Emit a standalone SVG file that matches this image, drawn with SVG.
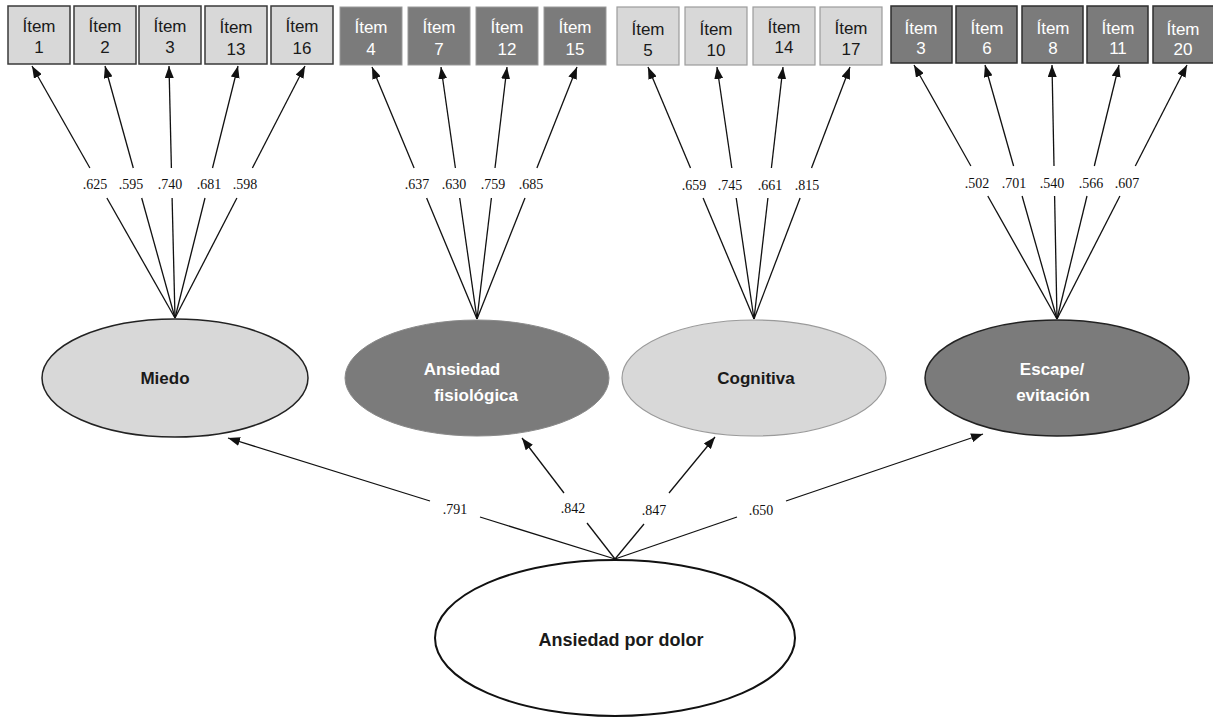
<svg xmlns="http://www.w3.org/2000/svg" width="1213" height="718" viewBox="0 0 1213 718">
<defs>
<marker id="ah" markerUnits="userSpaceOnUse" markerWidth="12" markerHeight="9" refX="12" refY="4.5" orient="auto">
<path d="M0,0 L12,4.5 L0,9 z" fill="#111"/>
</marker>
<style>
.bl{fill:#d8d8d8;stroke:#3a3a3a;stroke-width:1.5}
.bd{fill:#7b7b7b;stroke:#9a9a9a;stroke-width:1}
.bc{fill:#d8d8d8;stroke:#9c9c9c;stroke-width:1.2}
.be{fill:#7b7b7b;stroke:#2e2e2e;stroke-width:1.5}
.it{font-family:"Liberation Sans",Arial,sans-serif;font-size:17px;text-anchor:middle}
.dk{fill:#1a1a1a}
.wh{fill:#ffffff}
.lb{font-family:"Liberation Serif","Times New Roman",serif;font-size:14px;text-anchor:middle;fill:#111}
.el{font-family:"Liberation Sans",Arial,sans-serif;font-size:17px;font-weight:bold;text-anchor:middle}
.cn line{stroke:#111;stroke-width:1.3}
.ar{marker-end:url(#ah)}
</style>
</defs>
<rect width="1213" height="718" fill="#ffffff"/>

<g id="connectors" class="cn">
<line class="ar" x1="89.9" y1="168" x2="32" y2="66"/><line x1="106.9" y1="198" x2="175" y2="318"/>
<line class="ar" x1="133.3" y1="168" x2="105" y2="66"/><line x1="141.7" y1="198" x2="175" y2="318"/>
<line class="ar" x1="171.4" y1="168" x2="169" y2="66"/><line x1="172.1" y1="198" x2="175" y2="318"/>
<line class="ar" x1="212.5" y1="168" x2="238" y2="66"/><line x1="205" y1="198" x2="175" y2="318"/>
<line class="ar" x1="252.4" y1="168" x2="305" y2="66"/><line x1="236.9" y1="198" x2="175" y2="318"/>
<line class="ar" x1="414.1" y1="168" x2="372" y2="67"/><line x1="426.6" y1="198" x2="477" y2="319"/>
<line class="ar" x1="455.4" y1="168" x2="441" y2="67"/><line x1="459.7" y1="198" x2="477" y2="319"/>
<line class="ar" x1="495" y1="168" x2="507" y2="67"/><line x1="491.4" y1="198" x2="477" y2="319"/>
<line class="ar" x1="536.9" y1="168" x2="577" y2="67"/><line x1="525" y1="198" x2="477" y2="319"/>
<line class="ar" x1="690.5" y1="168" x2="648" y2="67"/><line x1="703.1" y1="198" x2="754" y2="319"/>
<line class="ar" x1="731.8" y1="168" x2="717" y2="67"/><line x1="736.2" y1="198" x2="754" y2="319"/>
<line class="ar" x1="771.4" y1="168" x2="783" y2="67"/><line x1="767.9" y1="198" x2="754" y2="319"/>
<line class="ar" x1="811.5" y1="168" x2="850" y2="67"/><line x1="800.1" y1="198" x2="754" y2="319"/>
<line class="ar" x1="970.9" y1="166" x2="914" y2="65"/><line x1="987.8" y1="196" x2="1057" y2="319"/>
<line class="ar" x1="1013.6" y1="166" x2="985" y2="65"/><line x1="1022.1" y1="196" x2="1057" y2="319"/>
<line class="ar" x1="1054" y1="166" x2="1052" y2="65"/><line x1="1054.6" y1="196" x2="1057" y2="319"/>
<line class="ar" x1="1094.3" y1="166" x2="1119" y2="65"/><line x1="1087" y1="196" x2="1057" y2="319"/>
<line class="ar" x1="1135.3" y1="166" x2="1187" y2="65"/><line x1="1119.9" y1="196" x2="1057" y2="319"/>
<line class="ar" x1="430" y1="501" x2="228" y2="438"/><line x1="480" y1="517" x2="615" y2="559"/>
<line class="ar" x1="564" y1="493" x2="522" y2="438"/><line x1="587" y1="523" x2="615" y2="559"/>
<line class="ar" x1="669" y1="493" x2="715" y2="437"/><line x1="644" y1="524" x2="615" y2="559"/>
<line class="ar" x1="786" y1="501" x2="983" y2="434"/><line x1="737" y1="517" x2="615" y2="559"/>
</g>

<g id="loadings">
<text class="lb" x="95" y="189">.625</text>
<text class="lb" x="131" y="189">.595</text>
<text class="lb" x="170" y="189">.740</text>
<text class="lb" x="209" y="189">.681</text>
<text class="lb" x="245" y="189">.598</text>
<text class="lb" x="417" y="189">.637</text>
<text class="lb" x="454" y="189">.630</text>
<text class="lb" x="493" y="189">.759</text>
<text class="lb" x="531" y="189">.685</text>
<text class="lb" x="694" y="190">.659</text>
<text class="lb" x="730" y="190">.745</text>
<text class="lb" x="770" y="190">.661</text>
<text class="lb" x="807" y="190">.815</text>
<text class="lb" x="977" y="188">.502</text>
<text class="lb" x="1014" y="188">.701</text>
<text class="lb" x="1052" y="188">.540</text>
<text class="lb" x="1091" y="188">.566</text>
<text class="lb" x="1127" y="188">.607</text>
<text class="lb" x="455" y="514">.791</text>
<text class="lb" x="573" y="513">.842</text>
<text class="lb" x="654" y="515">.847</text>
<text class="lb" x="761" y="515">.650</text>
</g>

<g id="item1"><rect class="bl" x="8" y="6" width="62" height="58"/><text class="it dk" x="39" y="32">Ítem</text><text class="it dk" x="39" y="53">1</text></g>
<g id="item2"><rect class="bl" x="74" y="6" width="62" height="58"/><text class="it dk" x="105" y="32">Ítem</text><text class="it dk" x="105" y="53">2</text></g>
<g id="item3a"><rect class="bl" x="139" y="6" width="62" height="58"/><text class="it dk" x="170" y="32">Ítem</text><text class="it dk" x="170" y="53">3</text></g>
<g id="item13"><rect class="bl" x="205" y="6" width="62" height="58"/><text class="it dk" x="236" y="33">Ítem</text><text class="it dk" x="236" y="55">13</text></g>
<g id="item16"><rect class="bl" x="271" y="6" width="62" height="58"/><text class="it dk" x="302" y="32">Ítem</text><text class="it dk" x="302" y="54">16</text></g>

<g id="item4"><rect class="bd" x="340" y="7" width="62" height="58"/><text class="it wh" x="371" y="33">Ítem</text><text class="it wh" x="371" y="55">4</text></g>
<g id="item7"><rect class="bd" x="408" y="7" width="62" height="58"/><text class="it wh" x="439" y="33">Ítem</text><text class="it wh" x="439" y="55">7</text></g>
<g id="item12"><rect class="bd" x="476" y="7" width="62" height="58"/><text class="it wh" x="507" y="33">Ítem</text><text class="it wh" x="507" y="55">12</text></g>
<g id="item15"><rect class="bd" x="544" y="7" width="62" height="58"/><text class="it wh" x="575" y="33">Ítem</text><text class="it wh" x="575" y="55">15</text></g>

<g id="item5"><rect class="bc" x="617" y="7" width="62" height="58"/><text class="it dk" x="648" y="35">Ítem</text><text class="it dk" x="648" y="56">5</text></g>
<g id="item10"><rect class="bc" x="685" y="7" width="62" height="58"/><text class="it dk" x="716" y="35">Ítem</text><text class="it dk" x="716" y="56">10</text></g>
<g id="item14"><rect class="bc" x="753" y="7" width="62" height="58"/><text class="it dk" x="784" y="33">Ítem</text><text class="it dk" x="784" y="53">14</text></g>
<g id="item17"><rect class="bc" x="820" y="7" width="62" height="58"/><text class="it dk" x="851" y="34">Ítem</text><text class="it dk" x="851" y="55">17</text></g>

<g id="item3b"><rect class="be" x="891" y="6" width="61" height="57"/><text class="it wh" x="921" y="34">Ítem</text><text class="it wh" x="921" y="54">3</text></g>
<g id="item6"><rect class="be" x="956" y="6" width="61" height="57"/><text class="it wh" x="987" y="34">Ítem</text><text class="it wh" x="987" y="54">6</text></g>
<g id="item8"><rect class="be" x="1022" y="6" width="61" height="57"/><text class="it wh" x="1053" y="34">Ítem</text><text class="it wh" x="1053" y="54">8</text></g>
<g id="item11"><rect class="be" x="1087" y="6" width="61" height="57"/><text class="it wh" x="1118" y="34">Ítem</text><text class="it wh" x="1118" y="54">11</text></g>
<g id="item20"><rect class="be" x="1153" y="6" width="61" height="57"/><text class="it wh" x="1183" y="35">Ítem</text><text class="it wh" x="1183" y="55">20</text></g>

<g id="miedo"><ellipse cx="175" cy="378" rx="133" ry="59" fill="#d8d8d8" stroke="#222" stroke-width="1.5"/><text class="el dk" x="165" y="384">Miedo</text></g>
<g id="fisiologica"><ellipse cx="477" cy="378" rx="132" ry="58" fill="#7b7b7b" stroke="#8a8a8a" stroke-width="1"/><text class="el wh" x="462" y="375">Ansiedad</text><text class="el wh" x="476" y="401">fisiológica</text></g>
<g id="cognitiva"><ellipse cx="754" cy="378" rx="132" ry="58" fill="#d8d8d8" stroke="#9a9a9a" stroke-width="1.2"/><text class="el dk" x="756" y="384">Cognitiva</text></g>
<g id="escape"><ellipse cx="1057" cy="378" rx="132" ry="58" fill="#7b7b7b" stroke="#222" stroke-width="1.5"/><text class="el wh" x="1052" y="375">Escape/</text><text class="el wh" x="1053" y="401">evitación</text></g>
<g id="ansiedad-dolor"><ellipse cx="615" cy="638" rx="180" ry="78" fill="#ffffff" stroke="#111" stroke-width="2"/><text class="el dk" x="621" y="646" style="font-size:18px">Ansiedad por dolor</text></g>
</svg>
